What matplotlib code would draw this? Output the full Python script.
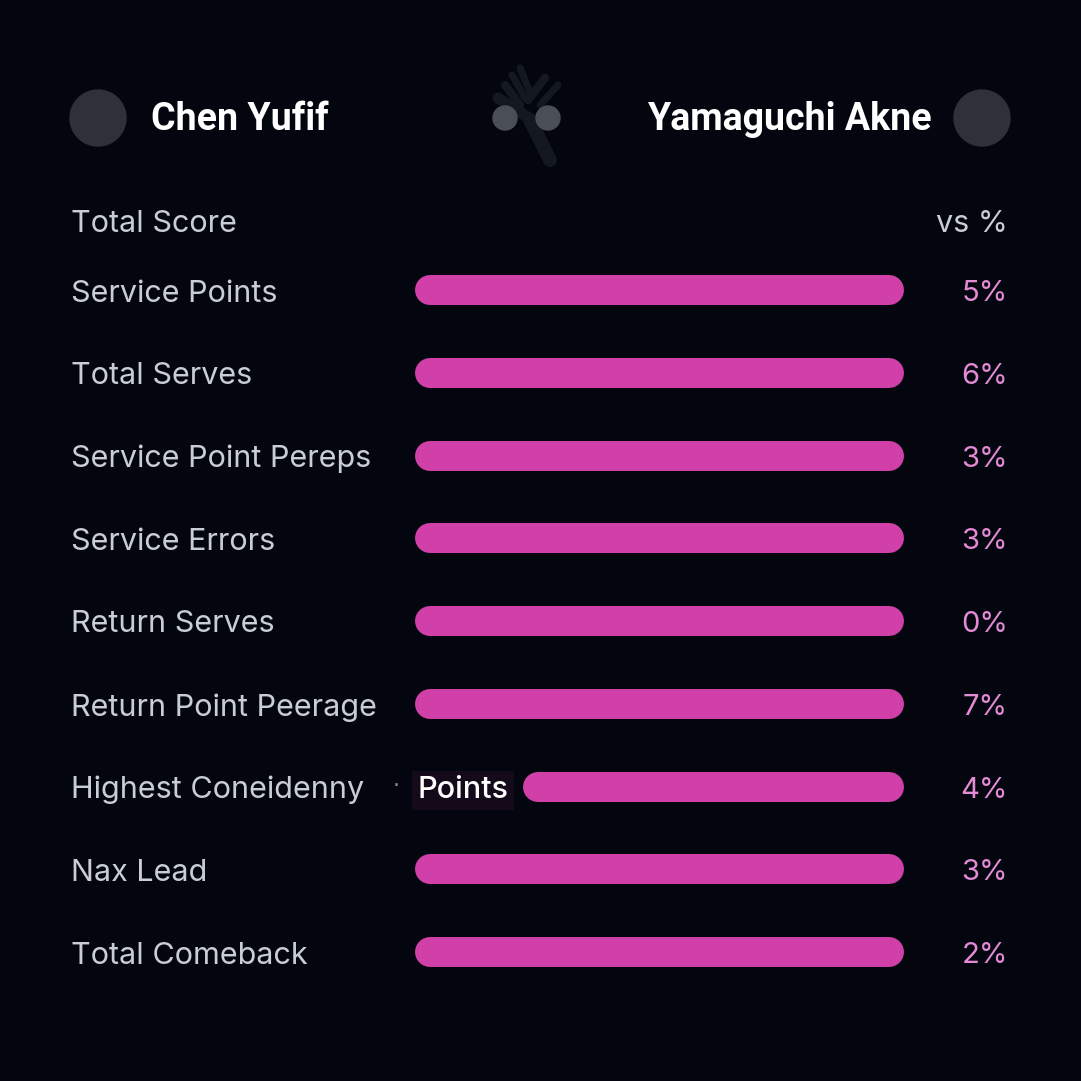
import matplotlib
matplotlib.use("Agg")
import matplotlib.pyplot as plt
from matplotlib.transforms import blended_transform_factory
from matplotlib.patches import Circle

# ---- data ----
player_left = "Chen Yufif"
player_right = "Yamaguchi Akne"
header_label = "Total Score"
header_right = "vs %"
categories = ["Service Points", "Total Serves", "Service Point Pereps", "Service Errors",
              "Return Serves", "Return Point Peerage", "Highest Coneidenny", "Nax Lead",
              "Total Comeback"]
bar_values = [100, 100, 100, 100, 100, 100, 78, 100, 100]   # bar length, % of track
percent_values = [5, 6, 3, 3, 0, 7, 4, 3, 2]
inline_label = "Points"
inline_row = 6

# ---- style ----
BG = "#04060f"
BAR = "#d040a8"
LABEL = "#c9ced3"
PCT = "#e58bd6"
W = H = 1081
DPI = 100

fig = plt.figure(figsize=(W / DPI, H / DPI), dpi=DPI, facecolor=BG)

# overlay axes in pixel coords for decorations
ov = fig.add_axes([0, 0, 1, 1])
ov.set_xlim(0, W)
ov.set_ylim(H, 0)
ov.axis("off")
ov.set_facecolor(BG)

# bar axes
bx0, bx1 = 415, 904
row_top, row_bot = 290, 952
n = len(categories)
step = (row_bot - row_top) / (n - 1)
ytop = row_top - step / 2
ybot = row_bot + step / 2
ax = fig.add_axes([bx0 / W, 1 - ybot / H, (bx1 - bx0) / W, (ybot - ytop) / H])
ax.set_xlim(0, 100)
ax.set_ylim(n - 0.5, -0.5)
ax.axis("off")
ax.patch.set_alpha(0)

bar_px = 30
lw_pt = bar_px * 72 / DPI
inset = (bar_px / 2) / (bx1 - bx0) * 100
for i, v in enumerate(bar_values):
    left = 100 - v
    ax.plot([left + inset, 100 - inset], [i, i], color=BAR, lw=lw_pt,
            solid_capstyle="round", zorder=2)

trans = blended_transform_factory(fig.transFigure, ax.transData)
FS = 22
label_font = dict(family=["Inter", "DejaVu Sans"], fontsize=FS, color=LABEL)
dy = 3.5 / step  # small downward nudge in row units
for i, (c, p) in enumerate(zip(categories, percent_values)):
    ax.text(71 / W, i + dy, c, transform=trans, ha="left", va="center", **label_font)
    ax.text(1008 / W, i + dy, f"{p}%", transform=trans, ha="right", va="center",
            family=["Inter", "DejaVu Sans"], fontsize=21, color=PCT)

# inline label on row
ax.text(417 / W, inline_row + dy, inline_label, transform=trans, ha="left", va="center",
        family=["Inter", "DejaVu Sans"], fontsize=22, fontweight="medium", color="white", zorder=4,
        bbox=dict(boxstyle="square,pad=0.18", fc="#140a1a", ec="none"))
ax.text(396 / W, inline_row, "·", transform=trans, ha="center", va="center",
        fontsize=16, color="#8a9090")

# header row
ov.text(71, 224, header_label, ha="left", va="center", **label_font)
ov.text(1008, 224, header_right, ha="right", va="center",
        family=["Inter", "DejaVu Sans"], fontsize=FS, color=LABEL)

# player header
ov.add_patch(Circle((98, 118), 28, color="#2e3238", zorder=2))
ov.add_patch(Circle((982, 118), 28, color="#2e3238", zorder=2))
ov.text(151, 119, player_left, ha="left", va="center", family=["Roboto", "DejaVu Sans"],
        fontweight="bold", fontsize=27, color="white")
ov.text(932, 119, player_right, ha="right", va="center", family=["Roboto", "DejaVu Sans"],
        fontweight="bold", fontsize=27, color="white")

# faint centre logo
logo = "#141921"
for (x0, y0, x1, y1, lw) in [(505, 85, 520, 105, 6), (512, 75, 525, 98, 5), (520, 68, 530, 92, 5),
                             (545, 78, 528, 100, 6), (558, 85, 540, 105, 5),
                             (498, 98, 540, 125, 8), (530, 120, 550, 160, 10)]:
    ov.plot([x0, x1], [y0, y1], color=logo, lw=lw, solid_capstyle="round", zorder=1)
ov.add_patch(Circle((505, 118), 12, color="#4a4f56", zorder=3))
ov.add_patch(Circle((548, 118), 12, color="#4a4f56", zorder=3))

fig.savefig("out.png", dpi=DPI, facecolor=BG)
